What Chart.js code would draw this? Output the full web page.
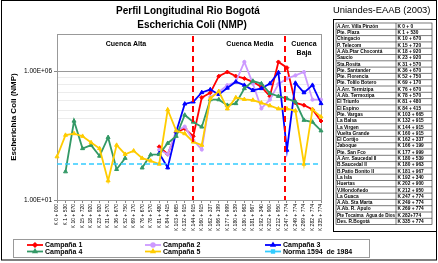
<!DOCTYPE html>
<html>
<head>
<meta charset="utf-8">
<script src="https://cdn.jsdelivr.net/npm/chart.js@4/dist/chart.umd.min.js"></script>
<style>
  body { margin: 0; background: #fff; }
  #wrap { position: relative; width: 438px; height: 263px; }
  .t { position: absolute; font-family: Arial, "Liberation Sans", sans-serif; color: #000; white-space: nowrap; }
</style>
</head>
<body>
<div id="wrap">
  <canvas id="chart" width="438" height="263"></canvas>
  <div class="t" style="left:88px;top:5px;width:200px;text-align:center;font-weight:bold;font-size:10px;">Perfil Longitudinal Rio Bogotá</div>
  <div class="t" style="left:92px;top:19px;width:200px;text-align:center;font-weight:bold;font-size:10px;">Escherichia Coli (NMP)</div>
  <div class="t" style="left:333px;top:4px;font-size:9.4px;">Uniandes-EAAB (2003)</div>
</div>
<script>
// abscisas (estaciones)
const categories = ['K 0 + 000','K 1 + 530','K 10 + 670','K 15 + 720','K 18 + 920','K 23 + 920','K 31 + 570','K 36 + 670',
  'K 52 + 750','K 69 + 170','K 76 + 670','K 78 + 570','K 81 + 480','K 84 + 415','K 103 + 665','K 132 + 915',
  'K 144 + 915','K 160 + 915','K 162 + 337','K 166 + 199','K 177 + 999','K 180 + 539','K 180 + 963','K 181 + 967',
  'K 192 + 340','K 202 + 900','K 212 + 950','K 247 + 774','K 249 + 774','K 269 + 774','K 282 + 774','K 335 + 774'];

const stations = ['A.Arr. Villa Pinzón','Pte. Plaza','Chingacio','P. Telecom','A.Ab.Ptar Chocontá','Saucío','Sta.Rosita',
  'Pte. Santander','Pte. Florencia','Pte. Tolilo Botero','A.Arr. Termizipa','A.Ab. Termozipa','El Triunfo','El Espino',
  'Pte. Vargas','La Balsa','La Virgen','Vuelta Grande','El Cortijo','Jaboque','Pte. San Fco','A.Arr. Saucedal II',
  'B.Saucedal II','B.Patio Bonito II','La Isla','Huertas','V.Mondoñedo','La Guaca','A.Ab. Sta Marta','A.Ab. R. Apulo',
  'Pte Tocaima  Agua de Dios','Des. R.Bogotá'];
const stationKm = ['K 0 + 0','K 1 + 530','K 10 + 670','K 15 + 720','K 18 + 920','K 23 + 920','K 31 + 570','K 36 + 670',
  'K 52 + 750','K 69 + 170','K 76 + 670','K 78 + 570','K 81 + 480','K 84 + 415','K 103 + 665','K 132 + 915',
  'K 144 + 915','K 160 + 915','K 162 + 337','K 166 + 199','K 177 + 999','K 180 + 539','K 180 + 963','K 181 + 967',
  'K 192 + 340','K 202 + 900','K 212 + 950','K 247 + 774','K 249 + 774','K 269 + 774','K 282+774','K 335 + 774'];

// E. coli (NMP) por campaña
const campana1 = [null,null,null,null,null,null,null,null,null,null,null,null,
  1170,600,4200,6000,3000,95000,145000,646000,933000,646000,525000,389000,245000,107000,2300000,1380000,59000,48000,33000,11700];
const campana2 = [null,null,null,null,null,null,null,null,null,null,null,null,
  890,600,4800,7100,2100,910,100000,158000,288000,389000,2300000,331000,36000,79000,316000,525000,692000,933000,79000,79000];
const campana3 = [null,null,null,null,null,null,null,null,null,null,null,null,
  650,180,4500,54000,65000,150000,195000,126000,224000,389000,288000,182000,214000,331000,891000,870,347000,148000,288000,56000];
const campana4 = [null,126,11700,1000,1350,510,2700,155,420,null,178,575,
  590,1600,3000,20000,10700,6900,79000,79000,48000,56000,214000,417000,331000,138000,107000,87000,65000,12600,10700,4900];
const campana5 = [480,3300,3800,3000,1700,1000,56,1350,600,810,420,330,
  250,32000,4900,3800,1800,1350,87000,166000,35000,95000,81000,76000,59000,46000,35000,35000,29000,250,33000,17000];
const norma = categories.map(() => 250);

// eje Y
const yMajor = [10, 1e6];
const yMinor = [14000, 31000, 71000, 155000, 320000, 590000];

// divisiones de cuenca (posición en categorías)
const dividers = [16, 26.75];
const zones = [
  { lines: ['Cuenca Alta'], at: 8.1 },
  { lines: ['Cuenca Media'], at: 22.65 },
  { lines: ['Cuenca', 'Baja'], at: 29 }
];

const FONT = 'Arial, "Liberation Sans", sans-serif';

const series = [
  { label: 'Campaña 1', data: campana1, color: '#FF0000', style: 'rectRot', r: 2 },
  { label: 'Campaña 2', data: campana2, color: '#CC99FF', style: 'circle', r: 1.6 },
  { label: 'Campaña 3', data: campana3, color: '#0000FF', style: 'triangle', r: 2.3 },
  { label: 'Campaña 4', data: campana4, color: '#339966', style: 'triangle', r: 2.3 },
  { label: 'Campaña 5', data: campana5, color: '#FFCC00', style: 'triangle', r: 2.3 },
  { label: 'Norma 1594  de 1984', data: norma, color: '#33CCFF', style: 'rect', r: 0, dash: [5, 3] }
];

const datasets = series.map((s, i) => ({
  label: s.label,
  data: s.data,
  borderColor: s.color,
  backgroundColor: s.color,
  pointStyle: s.style,
  pointRadius: s.r,
  pointBorderWidth: 1,
  borderWidth: s.dash ? 1.5 : 1.8,
  borderDash: s.dash || [],
  spanGaps: false,
  tension: 0,
  order: series.length - i
}));

const decoPlugin = {
  id: 'deco',
  beforeDatasetsDraw(chart) {
    const { ctx, chartArea: a } = chart;
    ctx.save();
    ctx.strokeStyle = '#999';
    ctx.lineWidth = 1;
    ctx.strokeRect(a.left + 0.5, a.top + 0.5, a.right - a.left, a.bottom - a.top);
    ctx.restore();
  },
  afterDatasetsDraw(chart) {
    const { ctx, chartArea: a, scales } = chart;
    ctx.save();
    // divisiones de cuenca
    ctx.strokeStyle = '#FF0000';
    ctx.lineWidth = 2;
    ctx.setLineDash([6, 4]);
    dividers.forEach(d => {
      const x = Math.round(scales.x.getPixelForValue(d));
      ctx.beginPath();
      ctx.moveTo(x, a.top + 2);
      ctx.lineTo(x, a.bottom);
      ctx.stroke();
    });
    ctx.setLineDash([]);
    ctx.fillStyle = '#000';
    ctx.font = 'bold 7px ' + FONT;
    ctx.textAlign = 'center';
    ctx.textBaseline = 'middle';
    zones.forEach(z => {
      const x = scales.x.getPixelForValue(z.at);
      z.lines.forEach((t, k) => ctx.fillText(t, x, a.top + 10 + k * 9.5));
    });
    ctx.restore();
  },
  afterDraw(chart) {
    const { ctx } = chart;
    ctx.save();
    // marco general
    ctx.strokeStyle = '#000';
    ctx.lineWidth = 1;
    ctx.strokeRect(1.5, 0.5, 435, 259.5);

    // leyenda
    ctx.strokeStyle = '#999';
    ctx.strokeRect(13.5, 239.5, 356, 18);
    const colX = [27, 145, 265];
    const rowY = [245, 251.5];
    ctx.font = 'bold 7px ' + FONT;
    ctx.textBaseline = 'middle';
    ctx.textAlign = 'left';
    chart.data.datasets.forEach((ds, i) => {
      const x = colX[i % 3], y = rowY[Math.floor(i / 3)];
      ctx.strokeStyle = ds.borderColor;
      ctx.fillStyle = ds.borderColor;
      ctx.lineWidth = 1.8;
      ctx.beginPath();
      ctx.moveTo(x, y);
      ctx.lineTo(x + 16, y);
      ctx.stroke();
      Chart.helpers.drawPoint(ctx, {
        pointStyle: ds.pointStyle, radius: 1.8, borderWidth: 1, rotation: 0
      }, x + 8, y);
      ctx.fillStyle = '#000';
      ctx.fillText(ds.label, x + 18, y + 0.5);
    });

    // tabla de estaciones
    ctx.strokeStyle = '#000';
    ctx.lineWidth = 1;
    ctx.strokeRect(333.5, 19.5, 103, 212);
    const tx = 336, ty = 23, w1 = 60, w2 = 36, rh = 6.3;
    ctx.lineWidth = 0.6;
    ctx.strokeStyle = '#222';
    ctx.strokeRect(tx, ty, w1 + w2, rh * stations.length);
    ctx.beginPath();
    ctx.moveTo(tx + w1, ty);
    ctx.lineTo(tx + w1, ty + rh * stations.length);
    for (let i = 1; i < stations.length; i++) {
      ctx.moveTo(tx, ty + i * rh);
      ctx.lineTo(tx + w1 + w2, ty + i * rh);
    }
    ctx.stroke();
    ctx.fillStyle = '#000';
    ctx.font = 'bold 4.8px ' + FONT;
    stations.forEach((s, i) => {
      const y = ty + i * rh + rh / 2 + 0.3;
      ctx.fillText(s, tx + 1, y, w1 - 2);
      ctx.fillText(stationKm[i], tx + w1 + 1.5, y, w2 - 2);
    });
    ctx.restore();
  }
};

new Chart(document.getElementById('chart'), {
  type: 'line',
  data: { labels: categories, datasets },
  options: {
    responsive: false,
    animation: false,
    devicePixelRatio: 1,
    layout: { padding: { left: 0, top: 34, right: 117, bottom: 31 } },
    plugins: { legend: { display: false }, tooltip: { enabled: false } },
    scales: {
      x: {
        type: 'category',
        offset: false,
        afterFit(s) { s.height = 32; },
        ticks: { autoSkip: false, maxRotation: 90, minRotation: 90, font: { size: 5, family: FONT }, color: '#000', padding: 1 },
        grid: { drawOnChartArea: false, tickLength: 3, color: '#888' },
        border: { color: '#888' }
      },
      y: {
        type: 'logarithmic',
        min: 10,
        max: 2.8e7,
        afterFit(s) { s.width = 57; },
        afterBuildTicks(s) {
          s.ticks = yMajor.concat(yMinor).sort((a, b) => a - b).map(v => ({ value: v }));
        },
        ticks: {
          font: { size: 6.5, family: FONT },
          color: '#000',
          padding: 2,
          callback: v => yMajor.includes(v) ? Number(v).toExponential(2).replace('e+', 'E+0').toUpperCase() : ''
        },
        grid: {
          tickLength: 3,
          color: c => (c.tick && yMajor.includes(c.tick.value)) ? '#999' : '#ececec',
          tickColor: c => (c.tick && yMajor.includes(c.tick.value)) ? '#888' : 'rgba(0,0,0,0)'
        },
        border: { color: '#888' },
        title: {
          display: true,
          text: 'Escherichia Coli (NMP)',
          font: { size: 8, weight: 'bold', family: FONT },
          color: '#000',
          padding: { top: 9, bottom: 0 }
        }
      }
    }
  },
  plugins: [decoPlugin]
});
</script>
</body>
</html>
